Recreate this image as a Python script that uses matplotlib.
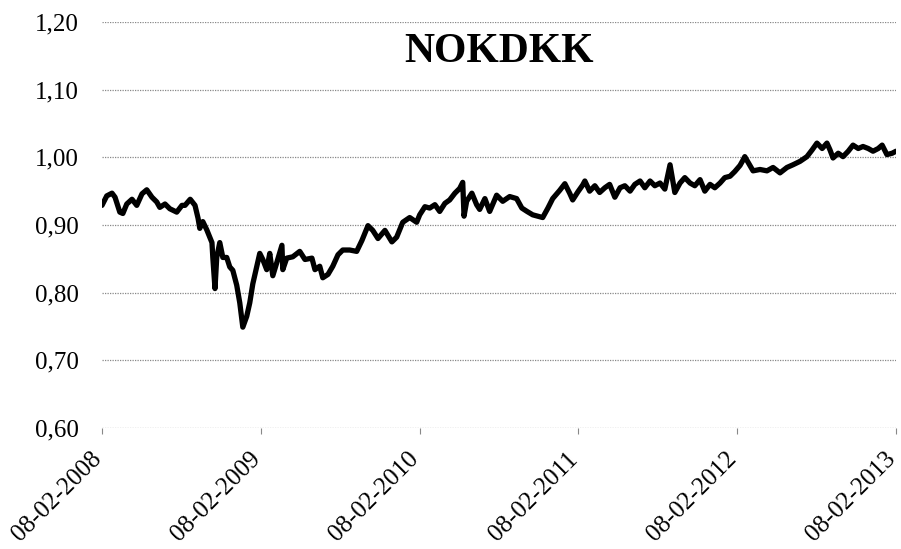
import matplotlib
matplotlib.use('Agg')
import matplotlib.pyplot as plt
import pandas as pd

# NOKDKK rate
dates = ['2008-02-08', '2008-02-19', '2008-03-02', '2008-03-09', '2008-03-20',
         '2008-03-27', '2008-04-05', '2008-04-17', '2008-04-28', '2008-05-10',
         '2008-05-21', '2008-06-02', '2008-06-13', '2008-06-20', '2008-07-02',
         '2008-07-13', '2008-07-29', '2008-08-10', '2008-08-17', '2008-08-29',
         '2008-09-09', '2008-09-16', '2008-09-20', '2008-09-27', '2008-10-06',
         '2008-10-18', '2008-10-20', '2008-10-25', '2008-10-29', '2008-11-05',
         '2008-11-12', '2008-11-21', '2008-11-28', '2008-12-05', '2008-12-14',
         '2008-12-21', '2008-12-28', '2009-01-06', '2009-01-13', '2009-01-20',
         '2009-01-29', '2009-02-05', '2009-02-12', '2009-02-21', '2009-02-28',
         '2009-03-07', '2009-03-16', '2009-03-28', '2009-03-30', '2009-04-08',
         '2009-04-22', '2009-05-08', '2009-05-20', '2009-06-05', '2009-06-12',
         '2009-06-23', '2009-06-30', '2009-07-12', '2009-07-23', '2009-08-04',
         '2009-08-15', '2009-08-31', '2009-09-16', '2009-09-28', '2009-10-12',
         '2009-10-23', '2009-11-04', '2009-11-20', '2009-12-06', '2009-12-17',
         '2009-12-31', '2010-01-16', '2010-02-01', '2010-02-08', '2010-02-20',
         '2010-03-03', '2010-03-15', '2010-03-26', '2010-04-07', '2010-04-18',
         '2010-04-30', '2010-05-11', '2010-05-18', '2010-05-21', '2010-05-27',
         '2010-06-08', '2010-06-19', '2010-06-26', '2010-07-08', '2010-07-19',
         '2010-08-04', '2010-08-18', '2010-09-03', '2010-09-19', '2010-10-01',
         '2010-10-13', '2010-10-26', '2010-11-07', '2010-11-18', '2010-11-30',
         '2010-12-11', '2010-12-27', '2011-01-08', '2011-01-19', '2011-01-26',
         '2011-02-07', '2011-02-18', '2011-02-23', '2011-03-06', '2011-03-18',
         '2011-03-29', '2011-04-10', '2011-04-21', '2011-05-03', '2011-05-15',
         '2011-05-26', '2011-06-07', '2011-06-18', '2011-06-30', '2011-07-11',
         '2011-07-23', '2011-08-03', '2011-08-15', '2011-08-26', '2011-09-07',
         '2011-09-18', '2011-09-30', '2011-10-11', '2011-10-23', '2011-11-03',
         '2011-11-15', '2011-11-26', '2011-12-08', '2011-12-19', '2011-12-31',
         '2012-01-11', '2012-01-23', '2012-02-03', '2012-02-15', '2012-02-22',
         '2012-02-26', '2012-03-16', '2012-04-01', '2012-04-17', '2012-05-01',
         '2012-05-17', '2012-06-02', '2012-06-16', '2012-07-02', '2012-07-18',
         '2012-07-30', '2012-08-10', '2012-08-22', '2012-09-02', '2012-09-09',
         '2012-09-16', '2012-09-28', '2012-10-09', '2012-10-21', '2012-11-01',
         '2012-11-13', '2012-11-24', '2012-12-06', '2012-12-17', '2012-12-29',
         '2013-01-07', '2013-01-18', '2013-01-30', '2013-02-08']
rate = [0.929, 0.943, 0.947, 0.941, 0.919,
        0.917, 0.931, 0.938, 0.929, 0.946,
        0.952, 0.941, 0.934, 0.926, 0.931,
        0.924, 0.919, 0.929, 0.929, 0.938,
        0.929, 0.910, 0.895, 0.905, 0.893,
        0.874, 0.852, 0.806, 0.852, 0.874,
        0.852, 0.852, 0.838, 0.833, 0.811,
        0.785, 0.749, 0.765, 0.785, 0.813,
        0.838, 0.858, 0.849, 0.834, 0.858,
        0.825, 0.844, 0.870, 0.834, 0.851,
        0.853, 0.861, 0.849, 0.851, 0.834,
        0.839, 0.822, 0.827, 0.839, 0.856,
        0.863, 0.863, 0.861, 0.877, 0.899,
        0.892, 0.880, 0.892, 0.875, 0.882,
        0.904, 0.911, 0.904, 0.915, 0.927,
        0.925, 0.930, 0.920, 0.932, 0.937,
        0.947, 0.954, 0.963, 0.913, 0.935,
        0.947, 0.930, 0.923, 0.939, 0.920,
        0.944, 0.935, 0.942, 0.939, 0.925,
        0.920, 0.915, 0.913, 0.911, 0.925,
        0.939, 0.951, 0.961, 0.947, 0.937,
        0.949, 0.959, 0.965, 0.950, 0.958,
        0.948, 0.955, 0.960, 0.941, 0.955,
        0.958, 0.950, 0.960, 0.965, 0.955,
        0.965, 0.958, 0.962, 0.953, 0.989,
        0.948, 0.962, 0.970, 0.962, 0.958,
        0.967, 0.950, 0.960, 0.955, 0.962,
        0.970, 0.972, 0.979, 0.988, 0.996,
        1.001, 0.980, 0.982, 0.980, 0.985,
        0.977, 0.985, 0.989, 0.994, 1.001,
        1.011, 1.021, 1.013, 1.021, 1.011,
        0.999, 1.006, 1.001, 1.009, 1.018,
        1.013, 1.016, 1.013, 1.009, 1.013,
        1.018, 1.004, 1.006, 1.009]

tick_dates = ['2008-02-08', '2009-02-08', '2010-02-08',
              '2011-02-08', '2012-02-08', '2013-02-08']
y_ticks = [0.60, 0.70, 0.80, 0.90, 1.00, 1.10, 1.20]

plt.rcParams['font.family'] = ['Liberation Serif', 'DejaVu Serif']

fig = plt.figure(figsize=(9.01, 5.49), dpi=100)
ax = fig.add_axes([0.1132, 0.2204, 0.8813, 0.7396])

x = pd.to_datetime(dates)
ax.plot(x, rate, color='black', linewidth=3.8, solid_joinstyle='round',
        solid_capstyle='round')

ticks = pd.to_datetime(tick_dates)
ax.set_xlim(ticks[0], ticks[-1])
ax.set_ylim(0.60, 1.20)
ax.set_xticks(ticks)
ax.set_xticklabels([t.strftime('%d-%m-%Y') for t in ticks])
ax.set_yticks(y_ticks)
ax.set_yticklabels([f'{v:.2f}'.replace('.', ',') for v in y_ticks])

for s in ax.spines.values():
    s.set_visible(False)
ax.grid(axis='y', color='#888888', linestyle=(0, (1, 1)), linewidth=0.9)
ax.set_axisbelow(True)
ax.tick_params(axis='y', length=0, pad=17, labelsize=18)
ax.tick_params(axis='x', length=4, color='#888888', pad=19, labelsize=18)

for lbl in ax.get_xticklabels():
    lbl.set_rotation(45)
    lbl.set_ha('right')
    lbl.set_va('baseline')
    lbl.set_rotation_mode('anchor')

ax.text(0.5, 0.926, 'NOKDKK', transform=ax.transAxes, ha='center', va='center',
        fontsize=30, fontweight='bold')

fig.savefig('out.png', dpi=100)
